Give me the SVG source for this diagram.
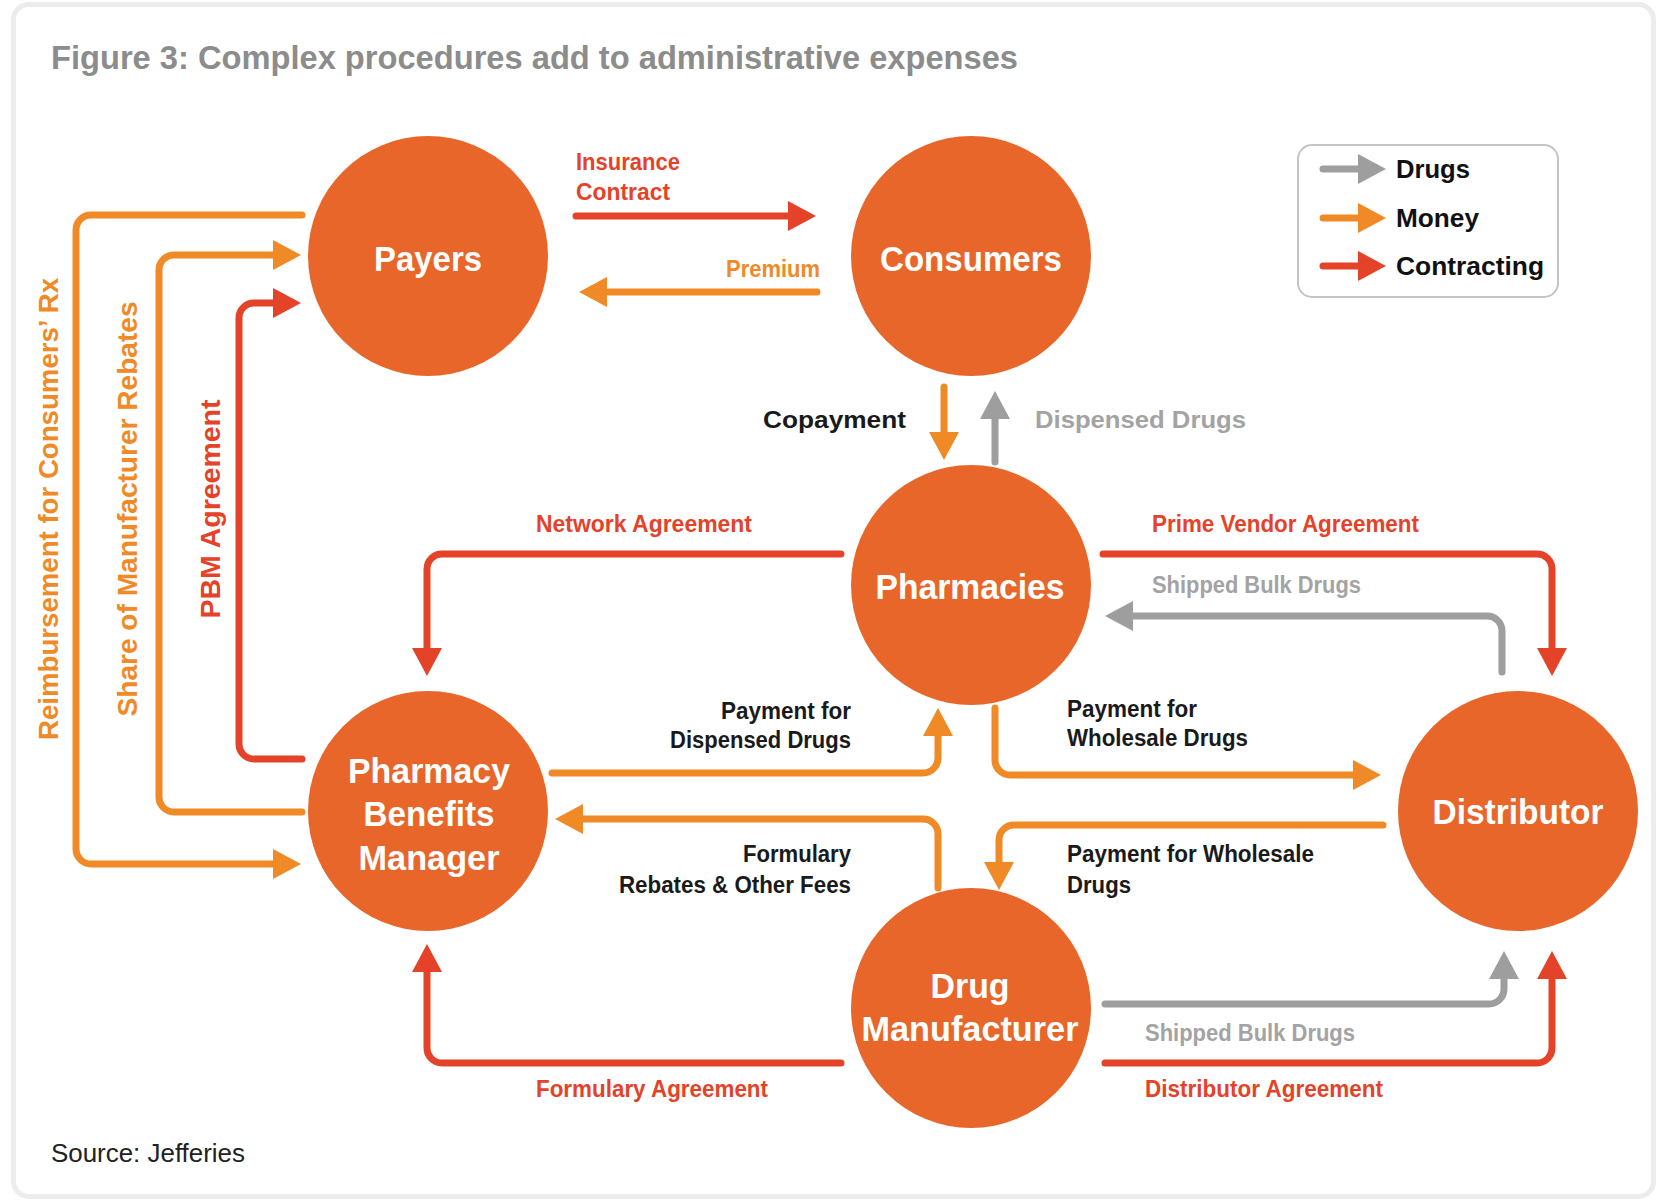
<svg xmlns="http://www.w3.org/2000/svg" width="1657" height="1200" viewBox="0 0 1657 1200">
<style>
.node{fill:#E8662A}
.nt{font-family:"Liberation Sans",Arial,sans-serif;font-weight:bold;font-size:35px;fill:#ffffff;text-anchor:middle}
.lbl{font-family:"Liberation Sans",Arial,sans-serif;font-weight:bold;font-size:23px}
.red{fill:#E4432A}
.org{fill:#EF8A27}
.gry{fill:#A3A3A3}
.blk{fill:#1a1a1a}
.cr{fill:none;stroke:#E4432A;stroke-width:7;stroke-linecap:round;stroke-linejoin:round}
.cm{fill:none;stroke:#EF8A27;stroke-width:7;stroke-linecap:round;stroke-linejoin:round}
.cg{fill:none;stroke:#9E9E9E;stroke-width:7;stroke-linecap:round;stroke-linejoin:round}
.vt{font-family:"Liberation Sans",Arial,sans-serif;font-weight:bold;font-size:27px;text-anchor:middle}
.leg{font-family:"Liberation Sans",Arial,sans-serif;font-weight:bold;font-size:26px;fill:#111}
</style>
<defs>
<marker id="ar" viewBox="0 0 28 30" refX="2" refY="15" markerWidth="28" markerHeight="30" markerUnits="userSpaceOnUse" orient="auto"><path d="M0,0 L28,15 L0,30 Z" fill="#E4432A"/></marker>
<marker id="am" viewBox="0 0 28 30" refX="2" refY="15" markerWidth="28" markerHeight="30" markerUnits="userSpaceOnUse" orient="auto"><path d="M0,0 L28,15 L0,30 Z" fill="#EF8A27"/></marker>
<marker id="ag" viewBox="0 0 28 30" refX="2" refY="15" markerWidth="28" markerHeight="30" markerUnits="userSpaceOnUse" orient="auto"><path d="M0,0 L28,15 L0,30 Z" fill="#9E9E9E"/></marker>
</defs>
<rect x="0" y="0" width="1657" height="1200" fill="#ffffff"/>
<rect x="13.5" y="4.5" width="1640" height="1192" rx="15" fill="none" stroke="#ECECEC" stroke-width="5"/>
<text x="51" y="69" font-family="'Liberation Sans',Arial,sans-serif" font-weight="bold" font-size="33" fill="#8C8C8C" textLength="967" lengthAdjust="spacingAndGlyphs">Figure 3: Complex procedures add to administrative expenses</text>

<g id="connectors">
<path class="cr" d="M576,216 H790" marker-end="url(#ar)"/>
<path class="cm" d="M817,292 H605" marker-end="url(#am)"/>
<path class="cm" d="M944,387 V434" marker-end="url(#am)"/>
<path class="cg" d="M995,462 V417" marker-end="url(#ag)"/>
<path class="cr" d="M841,554 H442 A15,15 0 0 0 427,569 V650" marker-end="url(#ar)"/>
<path class="cr" d="M1103,554 H1537 A15,15 0 0 1 1552,569 V650" marker-end="url(#ar)"/>
<path class="cg" d="M1502,672 V631 A15,15 0 0 0 1487,616 H1131" marker-end="url(#ag)"/>
<path class="cm" d="M552,773 H923 A15,15 0 0 0 938,758 V734" marker-end="url(#am)"/>
<path class="cm" d="M995,708 V760 A15,15 0 0 0 1010,775 H1355" marker-end="url(#am)"/>
<path class="cm" d="M938,888 V834 A15,15 0 0 0 923,819 H581" marker-end="url(#am)"/>
<path class="cm" d="M1383,825 H1014 A15,15 0 0 0 999,840 V864" marker-end="url(#am)"/>
<path class="cg" d="M1105,1004 H1489 A15,15 0 0 0 1504,989 V977" marker-end="url(#ag)"/>
<path class="cr" d="M1105,1063 H1537 A15,15 0 0 0 1552,1048 V977" marker-end="url(#ar)"/>
<path class="cr" d="M841,1063 H442 A15,15 0 0 1 427,1048 V970" marker-end="url(#ar)"/>
<path class="cr" d="M302,759 H254 A15,15 0 0 1 239,744 V318 A15,15 0 0 1 254,303 H275" marker-end="url(#ar)"/>
<path class="cm" d="M302,812 H174 A15,15 0 0 1 159,797 V270 A15,15 0 0 1 174,255 H275" marker-end="url(#am)"/>
<path class="cm" d="M302,215 H91 A15,15 0 0 0 76,230 V849 A15,15 0 0 0 91,864 H275" marker-end="url(#am)"/>

<text class="lbl red" x="576" y="170" textLength="104" lengthAdjust="spacingAndGlyphs">Insurance</text>
<text class="lbl red" x="576" y="200" textLength="94" lengthAdjust="spacingAndGlyphs">Contract</text>
<text class="lbl org" x="820" y="277" text-anchor="end" textLength="94" lengthAdjust="spacingAndGlyphs">Premium</text>
<text class="lbl blk" x="906" y="428" text-anchor="end" font-size="26" textLength="143" lengthAdjust="spacingAndGlyphs">Copayment</text>
<text class="lbl gry" x="1035" y="428" font-size="26" textLength="211" lengthAdjust="spacingAndGlyphs">Dispensed Drugs</text>
<text class="lbl red" x="536" y="532" textLength="216" lengthAdjust="spacingAndGlyphs">Network Agreement</text>
<text class="lbl red" x="1152" y="532" textLength="267" lengthAdjust="spacingAndGlyphs">Prime Vendor Agreement</text>
<text class="lbl gry" x="1152" y="593" textLength="209" lengthAdjust="spacingAndGlyphs">Shipped Bulk Drugs</text>
<text class="lbl blk" x="851" y="719" text-anchor="end" textLength="130" lengthAdjust="spacingAndGlyphs">Payment for</text>
<text class="lbl blk" x="851" y="748" text-anchor="end" textLength="181" lengthAdjust="spacingAndGlyphs">Dispensed Drugs</text>
<text class="lbl blk" x="1067" y="717" textLength="130" lengthAdjust="spacingAndGlyphs">Payment for</text>
<text class="lbl blk" x="1067" y="746" textLength="181" lengthAdjust="spacingAndGlyphs">Wholesale Drugs</text>
<text class="lbl blk" x="851" y="862" text-anchor="end" textLength="108" lengthAdjust="spacingAndGlyphs">Formulary</text>
<text class="lbl blk" x="851" y="893" text-anchor="end" textLength="232" lengthAdjust="spacingAndGlyphs">Rebates &amp; Other Fees</text>
<text class="lbl blk" x="1067" y="862" textLength="247" lengthAdjust="spacingAndGlyphs">Payment for Wholesale</text>
<text class="lbl blk" x="1067" y="893" textLength="64" lengthAdjust="spacingAndGlyphs">Drugs</text>
<text class="lbl gry" x="1145" y="1041" textLength="210" lengthAdjust="spacingAndGlyphs">Shipped Bulk Drugs</text>
<text class="lbl red" x="1145" y="1097" textLength="238" lengthAdjust="spacingAndGlyphs">Distributor Agreement</text>
<text class="lbl red" x="536" y="1097" textLength="232" lengthAdjust="spacingAndGlyphs">Formulary Agreement</text>
<text class="vt red" transform="translate(220,509) rotate(-90)" textLength="219" lengthAdjust="spacingAndGlyphs">PBM Agreement</text>
<text class="vt org" transform="translate(137,509) rotate(-90)" textLength="415" lengthAdjust="spacingAndGlyphs">Share of Manufacturer Rebates</text>
<text class="vt org" transform="translate(58,509) rotate(-90)" textLength="462" lengthAdjust="spacingAndGlyphs">Reimbursement for Consumers’ Rx</text>
</g>

<g id="payers"><circle class="node" cx="428" cy="256" r="120"/><text class="nt" x="428" y="271" textLength="108" lengthAdjust="spacingAndGlyphs">Payers</text></g>
<g id="consumers"><circle class="node" cx="971" cy="256" r="120"/><text class="nt" x="971" y="271" textLength="182" lengthAdjust="spacingAndGlyphs">Consumers</text></g>
<g id="pharmacies"><circle class="node" cx="971" cy="585" r="120"/><text class="nt" x="970" y="599" textLength="189" lengthAdjust="spacingAndGlyphs">Pharmacies</text></g>
<g id="pbm"><circle class="node" cx="428" cy="811" r="120"/>
<text class="nt" x="429" y="783" textLength="162" lengthAdjust="spacingAndGlyphs">Pharmacy</text>
<text class="nt" x="429" y="826" textLength="131" lengthAdjust="spacingAndGlyphs">Benefits</text>
<text class="nt" x="429" y="870" textLength="141" lengthAdjust="spacingAndGlyphs">Manager</text></g>
<g id="distributor"><circle class="node" cx="1518" cy="811" r="120"/><text class="nt" x="1518" y="824" textLength="171" lengthAdjust="spacingAndGlyphs">Distributor</text></g>
<g id="manufacturer"><circle class="node" cx="971" cy="1008" r="120"/>
<text class="nt" x="970" y="998" textLength="79" lengthAdjust="spacingAndGlyphs">Drug</text>
<text class="nt" x="970" y="1041" textLength="217" lengthAdjust="spacingAndGlyphs">Manufacturer</text></g>

<g id="legend">
<rect x="1298" y="145" width="260" height="152" rx="14" fill="#ffffff" stroke="#C4C4C4" stroke-width="2"/>
<path class="cg" d="M1323,169 H1360" marker-end="url(#ag)"/>
<path class="cm" d="M1323,218 H1360" marker-end="url(#am)"/>
<path class="cr" d="M1323,266 H1360" marker-end="url(#ar)"/>
<text class="leg" x="1396" y="178" textLength="74" lengthAdjust="spacingAndGlyphs">Drugs</text>
<text class="leg" x="1396" y="227" textLength="83" lengthAdjust="spacingAndGlyphs">Money</text>
<text class="leg" x="1396" y="275" textLength="148" lengthAdjust="spacingAndGlyphs">Contracting</text>
</g>

<text x="51" y="1162" font-family="'Liberation Sans',Arial,sans-serif" font-size="25" fill="#222222" textLength="194" lengthAdjust="spacingAndGlyphs">Source: Jefferies</text>
</svg>
